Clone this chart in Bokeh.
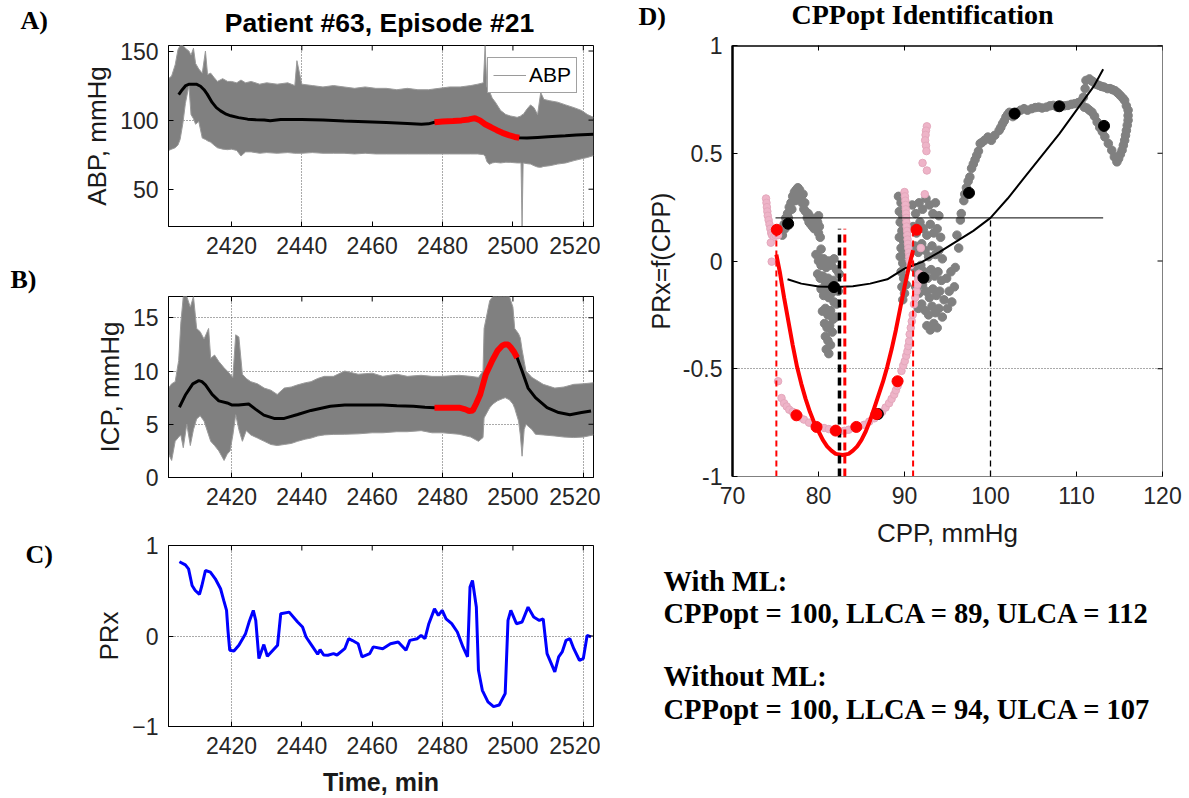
import math
from bokeh.plotting import figure
from bokeh.models import Range1d, FixedTicker, Legend, LegendItem, Span
from bokeh.core.properties import value
from bokeh.layouts import row, column
from bokeh.embed import file_html
from bokeh.resources import INLINE

SANS = "Liberation Sans"
SERIF = "Liberation Serif"

# ---------------- Panel A : ABP ----------------
ABP_T = [2402.1, 2403.0, 2404.0, 2404.8, 2405.4, 2406.2, 2406.9, 2407.9, 2408.5, 2409.2,
         2409.8, 2410.7, 2411.7, 2412.6, 2413.2, 2414.1, 2415.0, 2416.0, 2417.5, 2418.9,
         2420.0, 2421.5, 2422.7, 2424.0, 2425.6, 2428.0, 2430.0, 2433.0, 2436.0, 2438.0,
         2438.6, 2440.0, 2443.0, 2446.0, 2449.0, 2452.0, 2455.0, 2458.0, 2461.0, 2464.0,
         2467.0, 2470.0, 2473.0, 2476.0, 2479.0, 2482.0, 2485.0, 2488.0, 2490.0, 2491.6,
         2492.1, 2492.6, 2493.3, 2494.1, 2495.0, 2496.5, 2498.0, 2499.3, 2501.2, 2502.3,
         2502.6, 2502.9, 2504.0, 2505.0, 2506.0, 2507.0, 2507.9, 2508.8, 2510.5, 2512.7,
         2515.0, 2517.4, 2519.5, 2521.2, 2522.9]
ABP_HI = [130, 132, 140, 151, 154, 154, 152, 150, 147, 152,
          141, 137, 134, 150, 133, 134, 131, 128, 130, 128,
          128, 127, 129, 127, 128, 126, 127, 126, 127, 125,
          143, 126, 125, 124, 125, 124, 123, 124, 123, 123,
          122, 123, 122, 122, 123, 124, 124, 125, 126, 127,
          154, 124, 121, 116, 113, 107, 104, 103, 102, 103,
          104, 104, 108, 111, 109, 104, 120, 115, 114, 113,
          111, 109, 107, 104, 102]
ABP_LO = [78, 79, 80, 82, 86, 98, 112, 125, 104, 101,
          97, 99, 87, 86, 85, 84, 82, 80, 79, 78.6,
          79, 78, 74, 77, 77, 76, 76.5, 76, 76.5, 76,
          76, 76, 76.5, 76, 76, 76, 75.5, 76, 75.5, 75.5,
          75.5, 75.5, 75.5, 75.5, 75.5, 75.5, 75.5, 75.5, 75.5, 75,
          74, 70, 68, 69, 69.4, 69, 69.5, 69.4, 69, 69,
          23, 69, 68.5, 68.2, 67, 66, 65.8, 66.5, 67, 68.2,
          69, 70.7, 72, 73, 74.3]
ABP_MEAN_T = [2405.0, 2406.0, 2407.0, 2408.0, 2410.0, 2411.2, 2412.2, 2413.1, 2414.5, 2415.7,
              2416.9, 2418.5, 2419.8, 2422.0, 2424.6, 2427.0, 2429.3, 2431.0, 2434.0, 2440.0,
              2446.0, 2452.0, 2458.0, 2464.0, 2470.0, 2474.0, 2476.0, 2477.7, 2480.0, 2483.0,
              2485.4, 2487.5, 2489.2, 2490.6, 2492.1, 2493.8, 2495.4, 2497.0, 2498.8, 2500.5,
              2501.8, 2504.0, 2507.0, 2510.0, 2514.9, 2518.0, 2522.9]
ABP_MEAN = [118.5, 122, 125, 126, 126, 124.5, 122, 118.8, 112.8, 109,
            106.7, 104.3, 103.1, 101.8, 100.7, 100.2, 100, 99.6, 100.5, 100.5,
            100, 99.3, 98.8, 98.3, 97.6, 97.0, 97.3, 98.5, 99, 99.3,
            99.8, 100.5, 101.4, 99.8, 97, 94.8, 92.7, 90.8, 89.1, 87.8,
            87.2, 87.0, 87.5, 88.0, 88.6, 89.2, 89.8]
ABP_RED = (2477.7, 2501.8)

# ---------------- Panel B : ICP ----------------
ICP_T = [2402.1, 2403.0, 2404.0, 2405.0, 2405.6, 2406.3, 2407.3, 2408.3, 2409.2, 2410.1,
         2411.1, 2412.2, 2413.5, 2414.1, 2415.2, 2416.4, 2417.9, 2418.8, 2419.6, 2420.4,
         2421.2, 2422.1, 2423.1, 2424.2, 2425.5, 2427.4, 2429.3, 2431.2, 2433.0, 2435.0,
         2437.0, 2438.8, 2441.0, 2442.6, 2444.5, 2446.4, 2449.0, 2452.2, 2456.0, 2460.0,
         2463.0, 2467.0, 2470.0, 2473.9, 2477.0, 2480.0, 2484.7, 2488.0, 2490.2, 2491.5,
         2491.8, 2493.4, 2494.3, 2495.6, 2497.0, 2497.8, 2499.0, 2500.0, 2500.5, 2501.6,
         2502.1, 2502.6, 2503.2, 2503.7, 2505.4, 2506.4, 2508.6, 2511.9, 2514.5, 2517.3,
         2520.0, 2522.9]
ICP_HI = [8.4, 8.8, 9.0, 11.0, 14.5, 17.0, 17.0, 16.0, 17.0, 14.0,
          13.7, 13.0, 14.0, 11.2, 11.5, 10.9, 10.3, 10.0, 9.7, 9.4,
          13.4, 13.2, 9.7, 9.3, 9.0, 8.8, 8.4, 8.2, 7.8, 8.4,
          8.5, 8.7, 8.9, 9.0, 9.3, 9.5, 9.5, 10.0, 9.7, 9.8,
          9.5, 9.7, 9.5, 9.6, 9.5, 9.5, 9.6, 9.5, 9.4, 10.0,
          14.0, 16.6, 17.0, 17.0, 17.0, 17.0, 17.0, 16.0, 14.0, 13.5,
          13.1, 12.0, 10.9, 10.0, 9.4, 9.2, 8.75, 8.4, 8.5, 8.75,
          8.8, 8.9]
ICP_LO = [2.2, 1.6, 3.4, 3.8, 4.0, 2.8, 5.0, 3.0, 4.5, 5.5,
          5.8, 5.3, 4.0, 3.4, 3.0, 2.5, 1.6, 2.2, 2.5, 4.0,
          5.9, 4.5, 3.4, 4.4, 4.0, 3.7, 3.4, 3.1, 3.0, 3.1,
          3.2, 3.4, 3.6, 3.7, 3.9, 4.0, 4.05, 4.06, 4.1, 4.2,
          4.2, 4.3, 4.3, 4.4, 4.2, 4.2, 4.06, 3.8, 3.4, 3.75,
          5.6, 6.56, 6.9, 7.2, 7.4, 7.5, 7.3, 6.9, 6.5, 5.3,
          4.0, 2.0, 4.5, 5.0, 4.5, 4.06, 4.0, 3.9, 3.8, 3.75,
          3.8, 4.0]
ICP_MEAN_T = [2405.2, 2407.0, 2409.0, 2410.7, 2411.6, 2412.6, 2414.5, 2416.4, 2418.8, 2420.2,
              2422.0, 2423.5, 2424.9, 2426.9, 2429.2, 2432.1, 2435.0, 2438.8, 2442.6, 2448.1,
              2452.2, 2458.0, 2463.0, 2467.0, 2471.7, 2475.0, 2477.7, 2480.0, 2482.5, 2484.7,
              2486.5, 2487.5, 2488.6, 2489.5, 2490.7, 2492.3, 2494.0, 2495.6, 2497.0, 2497.8,
              2498.6, 2499.4, 2500.3, 2501.2, 2502.6, 2504.3, 2506.4, 2509.7, 2513.0, 2516.2,
              2519.5, 2522.2]
ICP_MEAN = [6.6, 7.8, 8.8, 9.1, 9.0, 8.7, 7.8, 7.2, 7.0, 6.8,
            6.8, 6.86, 6.9, 6.4, 5.86, 5.55, 5.55, 5.92, 6.3, 6.7,
            6.8, 6.8, 6.8, 6.75, 6.7, 6.6, 6.56, 6.56, 6.55, 6.56,
            6.4, 6.25, 6.3, 6.9, 7.8, 9.7, 10.9, 11.9, 12.4, 12.5,
            12.5, 12.2, 11.8, 11.25, 10.0, 8.4, 7.5, 6.56, 6.1, 5.9,
            6.1, 6.25]
ICP_RED = (2477.7, 2501.2)

# ---------------- Panel C : PRx ----------------
PRX_T = [2405.2, 2406.9, 2407.8, 2408.8, 2409.7, 2410.9, 2411.6, 2412.6, 2414.0, 2415.4,
         2416.9, 2417.8, 2418.6, 2419.0, 2419.5, 2420.7, 2422.1, 2424.0, 2425.0, 2426.2,
         2426.9, 2427.8, 2429.2, 2430.2, 2433.1, 2434.0, 2436.4, 2438.8, 2440.2, 2441.2,
         2443.1, 2444.5, 2445.2, 2446.2, 2447.4, 2449.0, 2450.0, 2452.2, 2453.3, 2454.4,
         2456.0, 2457.1, 2459.3, 2460.3, 2463.0, 2465.2, 2467.4, 2469.6, 2470.7, 2472.8,
         2473.9, 2475.0, 2476.1, 2477.7, 2478.8, 2479.9, 2481.0, 2482.6, 2484.2, 2485.8,
         2487.1, 2487.8, 2488.5, 2489.6, 2490.2, 2491.3, 2492.9, 2494.5, 2496.1, 2497.8,
         2498.6, 2499.4, 2501.0, 2502.6, 2504.3, 2505.9, 2507.5, 2508.6, 2509.7, 2511.9,
         2513.0, 2514.0, 2515.1, 2516.2, 2517.3, 2518.9, 2520.0, 2521.1, 2522.2]
PRX_V = [0.82, 0.786, 0.742, 0.558, 0.503, 0.459, 0.558, 0.724, 0.705, 0.632,
         0.522, 0.393, 0.283, 0.063, -0.157, -0.165, -0.102, 0.026, 0.154, 0.283,
         0.173, -0.249, -0.095, -0.224, -0.102, 0.246, 0.264, 0.154, 0.099, -0.011,
         -0.121, -0.202, -0.15, -0.21, -0.213, -0.195, -0.21, -0.14, -0.03, -0.05,
         -0.085, -0.23, -0.195, -0.12, -0.14, -0.085, -0.066, -0.158, -0.048, -0.03,
         0.007, -0.03, 0.136, 0.30, 0.228, 0.283, 0.19, 0.136, 0.044, -0.121,
         -0.23, 0.54, 0.613, 0.32, -0.378, -0.6, -0.727, -0.78, -0.763, -0.635,
         0.172, 0.283, 0.136, 0.154, 0.319, 0.209, 0.172, 0.19, -0.195, -0.396,
         -0.23, -0.176, -0.048, -0.03, -0.14, -0.268, -0.25, 0.007, -0.01]

# ---------------- Panel D : PRx vs CPP ----------------
GRAY_LEFT = [(75.6, 0.13), (75.8, 0.12), (76.0, 0.17), (76.2, 0.20), (76.1, 0.15), (76.4, 0.22),
             (76.6, 0.25), (76.5, 0.20), (76.8, 0.27), (77.0, 0.30), (76.9, 0.24), (77.2, 0.32),
             (77.4, 0.33), (77.3, 0.28), (77.6, 0.34), (77.8, 0.33), (77.7, 0.30), (78.0, 0.30),
             (78.1, 0.27), (78.2, 0.31), (78.3, 0.24), (78.5, 0.23), (78.4, 0.27), (78.7, 0.20),
             (78.9, 0.18), (78.8, 0.22), (79.1, 0.17), (79.3, 0.16), (79.2, 0.20), (79.5, 0.15),
             (79.7, 0.16), (79.6, 0.19), (79.9, 0.18), (80.0, 0.21), (80.1, 0.16), (80.0, 0.13),
             (80.2, 0.11), (80.3, 0.055), (80.1, 0.015)]
GRAY_COL80 = [(79.7, 0.03), (80.0, 0.0), (80.3, -0.02), (80.6, 0.01), (80.9, -0.03), (81.2, 0.0),
              (81.5, -0.02), (81.8, 0.01), (82.1, -0.04), (82.4, -0.06), (79.9, -0.06), (80.2, -0.08),
              (80.5, -0.07), (80.8, -0.1), (81.1, -0.08), (81.4, -0.11), (81.7, -0.09), (82.0, -0.12),
              (82.3, -0.14), (80.3, -0.13), (80.6, -0.16), (80.9, -0.14), (81.2, -0.17), (81.5, -0.15),
              (81.8, -0.19), (82.1, -0.2), (80.46, -0.233), (80.8, -0.22), (81.1, -0.25), (81.4, -0.23),
              (81.7, -0.27), (82.0, -0.26), (80.7, -0.29), (81.0, -0.31), (81.3, -0.3), (81.6, -0.33),
              (80.8, -0.35), (81.1, -0.37), (81.4, -0.39), (80.9, -0.41), (81.2, -0.43)]
GRAY_COL90 = [(89.3, 0.30), (89.6, 0.27), (89.4, 0.23), (89.8, 0.21), (89.5, 0.18), (89.7, 0.14),
              (89.4, 0.11), (89.9, 0.09), (89.6, 0.06), (89.5, 0.02), (89.8, -0.01), (89.6, -0.05),
              (89.9, -0.08), (89.7, -0.12), (90.0, -0.15), (89.8, -0.18), (90.1, 0.16), (90.0, 0.03),
              (90.2, -0.11)]
GRAY_COL93 = [(90.9, 0.26), (91.3, 0.22), (91.7, 0.27), (92.1, 0.24), (92.5, 0.29), (92.9, 0.26),
              (93.3, 0.22), (93.6, 0.27), (94.0, 0.21), (91.0, 0.16), (91.4, 0.13), (91.8, 0.18),
              (92.2, 0.15), (92.6, 0.12), (93.0, 0.17), (93.4, 0.13), (93.8, 0.15), (94.2, 0.11),
              (91.2, 0.07), (91.6, 0.04), (92.0, 0.08), (92.4, 0.05), (92.8, 0.02), (93.2, 0.07),
              (93.6, 0.03), (94.0, 0.05), (94.4, 0.01), (91.1, -0.03), (91.5, -0.06), (91.9, -0.02),
              (92.3, -0.05), (92.7, -0.08), (93.1, -0.04), (93.5, -0.07), (93.9, -0.05), (94.3, -0.09),
              (91.3, -0.12), (91.7, -0.15), (92.1, -0.11), (92.5, -0.14), (92.9, -0.17), (93.3, -0.13),
              (93.7, -0.16), (94.1, -0.14), (94.6, -0.18), (91.6, -0.22), (92.0, -0.2), (92.4, -0.23),
              (92.8, -0.25), (93.2, -0.21), (93.6, -0.24), (94.0, -0.22), (94.4, -0.26), (92.6, -0.3),
              (93.0, -0.32), (93.4, -0.29), (93.8, -0.31), (94.9, -0.08), (95.2, -0.14), (95.5, -0.19),
              (95.8, -0.12), (95.0, -0.22), (95.4, -0.05), (95.9, -0.03), (96.3, 0.06), (96.1, 0.12),
              (96.5, 0.19)]
GRAY_RISE = [(96.6, 0.22), (96.9, 0.28), (97.0, 0.31), (97.2, 0.34), (97.4, 0.37), (97.6, 0.39),
             (97.8, 0.43), (98.0, 0.45), (98.2, 0.47), (98.4, 0.49), (98.6, 0.51), (98.8, 0.545),
             (99.0, 0.55), (99.3, 0.56), (99.7, 0.575), (100.1, 0.56), (100.5, 0.583), (101.0, 0.606),
             (101.2, 0.62), (101.4, 0.637), (101.6, 0.65), (101.8, 0.668), (102.0, 0.68), (102.2, 0.69),
             (102.6, 0.67), (103.1, 0.69), (103.5, 0.70), (103.9, 0.707), (104.3, 0.70), (104.8, 0.707),
             (105.2, 0.712), (105.6, 0.714), (106.0, 0.71), (106.5, 0.714), (106.9, 0.72), (107.3, 0.722),
             (107.7, 0.715), (108.2, 0.718), (108.6, 0.72), (109.0, 0.722), (109.4, 0.727), (109.8, 0.73),
             (110.2, 0.735), (110.5, 0.74), (110.8, 0.76), (111.0, 0.80), (111.1, 0.838), (111.5, 0.845),
             (111.8, 0.835), (112.0, 0.83), (112.3, 0.82), (112.6, 0.815), (112.9, 0.81), (113.2, 0.807),
             (113.6, 0.80), (113.9, 0.80), (114.2, 0.795), (114.5, 0.79), (114.8, 0.78), (115.1, 0.768),
             (115.4, 0.755), (115.6, 0.745), (115.8, 0.72), (116.0, 0.70), (116.0, 0.675), (116.0, 0.653),
             (115.9, 0.63), (115.8, 0.606), (115.7, 0.583), (115.6, 0.56), (115.45, 0.537), (115.3, 0.514),
             (115.1, 0.495), (114.9, 0.475), (114.7, 0.46), (114.4, 0.483), (114.1, 0.514), (113.7, 0.545),
             (113.3, 0.576), (113.0, 0.6), (112.7, 0.62), (112.4, 0.645), (112.1, 0.672), (111.8, 0.69),
             (111.5, 0.70), (111.2, 0.71), (110.9, 0.714)]
PINK_LEFT = [(73.9, 0.29), (73.95, 0.27), (74.0, 0.25), (74.05, 0.23), (74.1, 0.21), (74.2, 0.19),
             (74.3, 0.17), (74.4, 0.15), (74.5, 0.13), (74.6, 0.12), (74.8, 0.11), (75.0, 0.12),
             (75.3, 0.12), (74.45, 0.085), (74.56, -0.003)]
PINK_U = [(75.3, -0.558), (75.7, -0.636), (76.0, -0.66), (76.3, -0.675), (76.6, -0.69), (77.0, -0.70),
          (77.4, -0.713), (77.8, -0.725), (78.3, -0.736), (78.9, -0.75), (79.5, -0.76), (80.1, -0.77),
          (80.65, -0.775), (81.2, -0.78), (81.8, -0.788), (82.4, -0.79), (83.0, -0.788), (83.5, -0.783),
          (84.1, -0.775), (84.7, -0.768), (85.3, -0.76), (85.9, -0.745), (86.5, -0.73), (87.0, -0.715),
          (87.4, -0.70), (87.8, -0.68), (88.2, -0.66), (88.5, -0.64), (88.8, -0.62), (89.0, -0.60),
          (89.2, -0.58), (89.4, -0.555), (89.65, -0.51), (89.85, -0.485), (90.03, -0.465), (90.2, -0.44),
          (90.34, -0.419), (90.45, -0.395), (90.54, -0.372), (90.6, -0.34), (90.73, -0.31), (90.85, -0.28),
          (90.95, -0.25), (91.1, -0.2), (91.25, -0.17), (91.4, -0.14), (91.5, -0.11), (91.6, -0.085),
          (91.7, -0.06)]
PINK_COL90 = [(90.0, 0.32), (90.05, 0.30), (90.1, 0.28), (90.12, 0.26), (90.15, 0.24), (90.18, 0.22),
              (90.2, 0.2), (90.22, 0.18), (90.25, 0.16), (90.3, 0.14), (90.33, 0.12), (90.36, 0.10),
              (90.4, 0.08), (90.45, 0.06), (90.5, 0.04), (90.55, 0.02), (90.6, 0.0), (90.7, -0.02)]
PINK_TOP = [(92.6, 0.625), (92.5, 0.605), (92.45, 0.585), (92.4, 0.56), (92.5, 0.535), (92.55, 0.51),
            (92.1, 0.455), (92.6, 0.42), (92.36, 0.31), (91.9, 0.06)]
BLACK_DOTS = [(76.47, 0.173), (81.8, -0.121), (92.2, -0.078), (97.5, 0.316), (102.8, 0.684),
              (108.0, 0.718), (113.2, 0.627), (86.9, -0.71)]
RED_DOTS = [(75.15, 0.145), (91.4, 0.145), (77.43, -0.716), (79.77, -0.77), (82.0, -0.787),
            (84.4, -0.77), (86.74, -0.71), (89.19, -0.558)]
BLACK_FIT_CPP = [76.4, 78, 80, 82, 84, 86, 88, 90, 92, 94, 96, 98, 100, 102, 104, 106, 108, 110, 112, 113.1]
BLACK_FIT_PRX = [-0.085, -0.105, -0.118, -0.121, -0.117, -0.105, -0.085, -0.035, -0.005, 0.04,
                 0.09, 0.14, 0.2, 0.29, 0.39, 0.49, 0.59, 0.7, 0.81, 0.89]
RED_FIT_CPP = [75.1, 75.5, 76.0, 76.5, 77.0, 77.5, 78.0, 78.5, 79.0, 79.5, 80.0, 80.5, 81.0, 81.5,
               82.0, 82.8, 83.5, 84.0, 84.5, 85.0, 85.5, 86.0, 86.5, 87.0, 87.5, 88.0, 88.5, 89.0,
               89.5, 90.0, 90.5, 91.0]
RED_FIT_PRX = [0.03, -0.05, -0.17, -0.28, -0.39, -0.49, -0.57, -0.64, -0.7, -0.75, -0.79, -0.83, -0.86,
               -0.88, -0.895, -0.9, -0.895, -0.88, -0.86, -0.83, -0.79, -0.74, -0.68, -0.62, -0.56,
               -0.49, -0.41, -0.32, -0.22, -0.12, -0.03, 0.05]
RED_LIMITS = [75.1, 91.0]
RED_OPT = 83.06
BLACK_OPT = 82.44
BLACK_CPPOPT = 100.0
DASH_TOP = 0.15
THRESHOLD = 0.2
THRESHOLD_SPAN = (75.0, 113.1)

TITLE_A = "Patient #63, Episode #21"
TITLE_D = "CPPopt Identification"
TEXT_LINES = ["With ML:", "CPPopt = 100, LLCA = 89, ULCA = 112", "Without ML:",
              "CPPopt = 100, LLCA = 94, ULCA = 107"]

assert len(ABP_T) == len(ABP_HI) == len(ABP_LO)
assert len(ABP_MEAN_T) == len(ABP_MEAN)
assert len(ICP_T) == len(ICP_HI) == len(ICP_LO)
assert len(ICP_MEAN_T) == len(ICP_MEAN)
assert len(PRX_T) == len(PRX_V)
assert len(RED_FIT_CPP) == len(RED_FIT_PRX)
assert len(BLACK_FIT_CPP) == len(BLACK_FIT_PRX)

T_RANGE = (2402.1, 2522.9)
TIME_TICKS = [2420, 2440, 2460, 2480, 2500, 2520]
TICK_COLOR = "#262626"
GRID_COLOR = "#555555"
LETTER_SIZE = 26


def style_axis(ax, ticks, overrides=None, line_color="black", line_width=1):
    ax.ticker = FixedTicker(ticks=ticks)
    ax.major_tick_in = 5
    ax.major_tick_out = 0
    ax.minor_tick_line_color = None
    ax.major_tick_line_color = "black"
    ax.axis_line_color = line_color
    ax.axis_line_width = line_width
    ax.major_label_text_font = SANS
    ax.major_label_text_font_size = "23px"
    ax.major_label_text_color = TICK_COLOR
    ax.major_label_standoff = 10
    if overrides:
        ax.major_label_overrides = overrides


def mirror_ticks(p, xticks, yticks, xr, yr):
    # inward tick marks on the top and right edges (half of each dash is clipped by the frame)
    p.scatter(xticks, [yr[1]] * len(xticks), marker="dash", angle=math.pi / 2, size=10,
              line_color="black", line_width=1)
    p.scatter([xr[1]] * len(yticks), yticks, marker="dash", size=10, line_color="black", line_width=1)


def axis_label(ax, text, bold=False, size="26px", standoff=5):
    ax.axis_label = text
    ax.axis_label_text_font = SANS
    ax.axis_label_text_font_size = size
    ax.axis_label_text_font_style = "bold" if bold else "normal"
    ax.axis_label_text_color = "#1a1a1a"
    ax.axis_label_standoff = standoff


def ts_fig(width, height, bleft, btop, bbot, yr, yticks, xgrid, ygrid):
    p = figure(width=width, height=height, x_range=Range1d(*T_RANGE), y_range=Range1d(*yr),
               min_border_left=bleft, min_border_right=7, min_border_top=btop, min_border_bottom=bbot,
               output_backend="svg", toolbar_location=None, title=None)
    p.frame_align = False
    p.outline_line_color = "black"
    p.background_fill_color = "white"
    p.border_fill_color = "white"
    style_axis(p.xaxis[0], TIME_TICKS)
    style_axis(p.yaxis[0], yticks)
    p.xgrid.ticker = FixedTicker(ticks=xgrid)
    p.ygrid.ticker = FixedTicker(ticks=ygrid)
    for g in (p.xgrid[0], p.ygrid[0]):
        g.grid_line_color = GRID_COLOR
        g.grid_line_dash = "1 2"
        g.grid_line_width = 1
    return p


def strip(width, height):
    p = figure(width=width, height=height, x_range=Range1d(0, width), y_range=Range1d(height, 0),
               min_border_left=0, min_border_right=0, min_border_top=0, min_border_bottom=0,
               x_axis_location=None, y_axis_location=None, output_backend="svg",
               toolbar_location=None, title=None)
    p.frame_align = False
    p.outline_line_color = None
    p.xgrid.visible = False
    p.ygrid.visible = False
    p.background_fill_color = "white"
    p.border_fill_color = "white"
    return p


def put_text(p, x, base, txt, font, size, bold=True, align="left"):
    # 'base' is the wanted baseline; the rendered alphabetic baseline sits ~0.41 em below y
    p.text(x=[x], y=[base - 0.41 * size], text=[txt], text_font=value(font),
           text_font_size=value(f"{size}px"), text_font_style="bold" if bold else "normal",
           text_align=align, text_baseline="alphabetic", text_color="black")


def window(ts, vs, lim):
    xs = [t for t, v in zip(ts, vs) if lim[0] <= t <= lim[1]]
    ys = [v for t, v in zip(ts, vs) if lim[0] <= t <= lim[1]]
    return xs, ys


# ---- A
topA = strip(600, 40)
put_text(topA, 20, 31, "A)", SERIF, LETTER_SIZE)
put_text(topA, 379, 33.5, TITLE_A, SANS, 26.5, align="center")

A_YR = (23, 154)
pA = ts_fig(600, 226, 168, 5, 40, A_YR, [50, 100, 150], [2440, 2480, 2520], [100])
pA.varea(x=ABP_T, y1=ABP_LO, y2=ABP_HI, fill_color="#808080")
pA.line(ABP_T, ABP_LO, line_color="#9a9a9a", line_width=1)
raw_line = pA.line(ABP_T, ABP_HI, line_color="#9a9a9a", line_width=1)
pA.line(ABP_MEAN_T, ABP_MEAN, line_color="black", line_width=3)
rx, ry = window(ABP_MEAN_T, ABP_MEAN, ABP_RED)
pA.line(rx, ry, line_color="red", line_width=6)
mirror_ticks(pA, TIME_TICKS, [50, 100, 150], T_RANGE, A_YR)
axis_label(pA.yaxis[0], "ABP, mmHg")
legend = Legend(items=[LegendItem(label="ABP", renderers=[raw_line])], location=(319, 133),
                label_text_font=SANS, label_text_font_size="21px", label_text_color="black",
                glyph_width=33, glyph_height=20, label_standoff=3, padding=5, margin=0, spacing=0,
                border_line_color="#444444", border_line_width=1, background_fill_alpha=1)
pA.add_layout(legend, "center")

# ---- B
topB = strip(600, 30)
put_text(topB, 10, 24, "B)", SERIF, LETTER_SIZE)

B_YR = (0, 17)
pB = ts_fig(600, 224, 168, 0, 43, B_YR, [0, 5, 10, 15], [2420, 2480, 2520], [5, 10, 15])
pB.varea(x=ICP_T, y1=ICP_LO, y2=ICP_HI, fill_color="#808080")
pB.line(ICP_T, ICP_LO, line_color="#9a9a9a", line_width=1)
pB.line(ICP_T, ICP_HI, line_color="#9a9a9a", line_width=1)
pB.line(ICP_MEAN_T, ICP_MEAN, line_color="black", line_width=3)
rx, ry = window(ICP_MEAN_T, ICP_MEAN, ICP_RED)
pB.line(rx, ry, line_color="red", line_width=6)
mirror_ticks(pB, TIME_TICKS, [0, 5, 10, 15], T_RANGE, B_YR)
axis_label(pB.yaxis[0], "ICP, mmHg")

# ---- C
leftC = strip(60, 278)
put_text(leftC, 25, 45, "C)", SERIF, LETTER_SIZE)

C_YR = (-1, 1)
pC = ts_fig(540, 278, 108, 25, 71, C_YR, [-1, 0, 1], [2420, 2480, 2520], [0])
pC.line(PRX_T, PRX_V, line_color="#0000ff", line_width=3)
mirror_ticks(pC, TIME_TICKS, [-1, 0, 1], T_RANGE, C_YR)
axis_label(pC.yaxis[0], "PRx")
axis_label(pC.xaxis[0], "Time, min", bold=True, size="25px", standoff=11)

# ---- D
topD = strip(589, 32)
put_text(topD, 38, 26.2, "D)", SERIF, LETTER_SIZE)
put_text(topD, 322, 25.5, TITLE_D, SERIF, 28, align="center")

D_XR = (70, 120)
D_YR = (-1, 1)
pD = figure(width=589, height=518, x_range=Range1d(*D_XR), y_range=Range1d(*D_YR),
            min_border_left=132, min_border_right=27, min_border_top=13, min_border_bottom=74,
            output_backend="svg", toolbar_location=None, title=None)
pD.frame_align = False
pD.outline_line_color = "#808080"
pD.background_fill_color = "white"
pD.border_fill_color = "white"
D_XT = [70, 80, 90, 100, 110, 120]
D_YT = [-1, -0.5, 0, 0.5, 1]
style_axis(pD.xaxis[0], D_XT, line_color="#808080")
style_axis(pD.yaxis[0], D_YT, overrides={-1: "-1", -0.5: "-0.5", 0: "0", 0.5: "0.5", 1: "1"},
           line_width=2.5)
pD.xgrid.visible = False
pD.ygrid.ticker = FixedTicker(ticks=[-0.5])
pD.ygrid.grid_line_color = GRID_COLOR
pD.ygrid.grid_line_dash = "1 2"
pD.add_layout(Span(location=D_YR[1], dimension="width", line_color="black", line_width=2.5))
axis_label(pD.yaxis[0], "PRx=f(CPP)", size="25px")
axis_label(pD.xaxis[0], "CPP, mmHg", standoff=11)

gray = GRAY_LEFT + GRAY_COL80 + GRAY_COL90 + GRAY_COL93 + GRAY_RISE
pink = PINK_LEFT + PINK_U + PINK_COL90 + PINK_TOP
pD.scatter([a for a, b in gray], [b for a, b in gray], size=8.5, fill_color="#808080",
           line_color="#808080")
pD.scatter([a for a, b in pink], [b for a, b in pink], size=7.5, fill_color="#eeb4c8",
           line_color="#e4a8bc")
pD.line(BLACK_FIT_CPP, BLACK_FIT_PRX, line_color="black", line_width=2)
pD.line(RED_FIT_CPP, RED_FIT_PRX, line_color="#ff0000", line_width=4)
pD.segment(x0=RED_LIMITS, y0=[D_YR[0]] * 2, x1=RED_LIMITS, y1=[DASH_TOP] * 2,
           line_color="#ff0000", line_width=2, line_dash="6 4")
pD.segment(x0=[BLACK_OPT], y0=[D_YR[0]], x1=[BLACK_OPT], y1=[DASH_TOP], line_color="black",
           line_width=3.5, line_dash="8 5")
pD.segment(x0=[RED_OPT], y0=[D_YR[0]], x1=[RED_OPT], y1=[DASH_TOP], line_color="#ff0000",
           line_width=3, line_dash="8 5")
pD.segment(x0=[BLACK_CPPOPT], y0=[D_YR[0]], x1=[BLACK_CPPOPT], y1=[THRESHOLD], line_color="black",
           line_width=1.3, line_dash="6 4")
pD.segment(x0=[THRESHOLD_SPAN[0]], y0=[THRESHOLD], x1=[THRESHOLD_SPAN[1]], y1=[THRESHOLD],
           line_color="black", line_width=1)
pD.scatter([a for a, b in BLACK_DOTS], [b for a, b in BLACK_DOTS], size=11, fill_color="black",
           line_color="black")
pD.scatter([a for a, b in RED_DOTS], [b for a, b in RED_DOTS], size=11, fill_color="#ff0000",
           line_color="#ff0000")
mirror_ticks(pD, D_XT, D_YT, D_XR, D_YR)

# ---- text block
txt = strip(589, 248)
for line, base in zip(TEXT_LINES, [43, 75, 138, 171]):
    put_text(txt, 63, base, line, SERIF, 28.5)

left = column(topA, pA, topB, pB, row(leftC, pC))
right = column(topD, pD, txt)
layout = row(left, right)
open("out.html", "w").write(file_html(layout, INLINE))
